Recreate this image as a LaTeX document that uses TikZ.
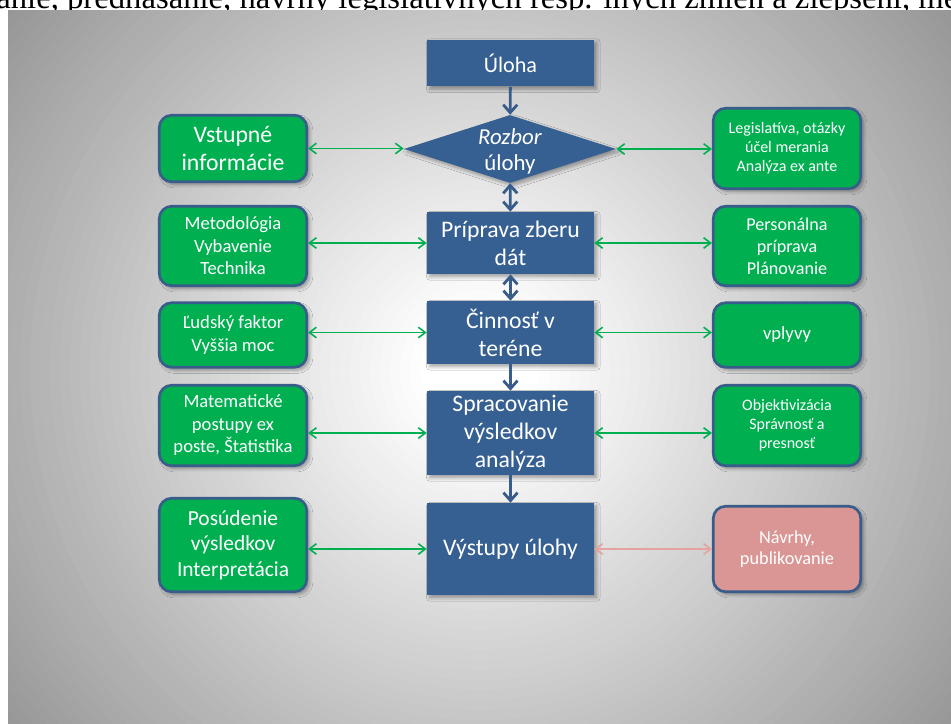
\documentclass[tikz,border=0pt]{standalone}
\usepackage{fontspec}
\setmainfont{Carlito}
\newfontfamily\riadokpismo{Liberation Serif}
\usetikzlibrary{shapes.geometric,arrows.meta,shadows.blur}

\definecolor{krokmodra}{RGB}{55,96,146}
\definecolor{ramcek}{RGB}{56,93,138}
\definecolor{zelena}{RGB}{0,176,80}
\definecolor{ruzova}{RGB}{217,150,148}
\definecolor{ruzovasipka}{RGB}{228,162,160}

\tikzset{
  Hrot/.tip={Straight Barb[length=4.5pt,width=8pt]},
  Hrotik/.tip={Straight Barb[length=4pt,width=6pt]},
  tien/.style={blur shadow={shadow xshift=1.6pt, shadow yshift=-1.6pt, shadow blur steps=6, shadow opacity=35}},
  krok/.style={fill=krokmodra, text=white, align=center, inner sep=1pt, minimum width=3.34cm, tien},
  info/.style={fill=zelena, draw=ramcek, line width=1.5pt, rounded corners=7pt, text=white, align=center, inner sep=1pt, minimum width=2.95cm, tien},
  vystup/.style={info, fill=ruzova},
  rozhodnutie/.style={diamond, fill=krokmodra, inner sep=0pt, minimum width=4.24cm, minimum height=1.36cm, tien},
  tok/.style={draw=ramcek, line width=1.6pt, -Hrot},
  spoj/.style={draw=zelena, line width=0.9pt, Hrotik-Hrotik},
  velke/.style={font=\fontsize{13.5}{16}\selectfont},
  stredne/.style={font=\fontsize{10.6}{12.8}\selectfont},
  male/.style={font=\fontsize{9.1}{10.9}\selectfont},
}

\begin{document}
\begin{tikzpicture}[x=0.02cm, y=-0.02cm]
	\useasboundingbox (0,0) rectangle (951,724);
	\clip (0,0) rectangle (951,724);
	\fill [white] (0,0) rectangle (951,724);

	% riadok textu nad snimkou
	\node [anchor=base west, inner sep=0pt, font=\riadokpismo\fontsize{18.6}{20}\selectfont] (riadok) at (-4,8)
		{anie, prednášanie, návrhy legislatívnych resp. iných zmien a zlepšení, me};

	% snimka - kruhovy prechod od stredu
	\begin{scope}
		\clip (8,10) rectangle (951,724);
		\foreach \r in {600,590,...,0} {
			\pgfmathsetmacro\tmavost{max(0,(\r-60)*0.076)}
			\fill [black!\tmavost] (480,370) circle (\r);
		}
	\end{scope}

	% hlavny tok
	\node [krok, minimum height=0.94cm, font=\fontsize{12.6}{15}\selectfont] (uloha) at (510.5,63) {Úloha};
	\node [rozhodnutie, label={[text=white, align=center, yshift=-1.5pt, font=\fontsize{13}{14.5}\selectfont]center:{\textit{Rozbor}\\úlohy}}] (rozbor) at (510,149) {};
	\node [krok, velke, minimum height=1.24cm] (priprava) at (510.5,243) {Príprava zberu\\dát};
	\node [krok, velke, minimum height=1.26cm] (cinnost) at (510.5,332.5) {Činnosť v\\teréne};
	\node [krok, velke, minimum height=1.68cm] (spracovanie) at (510.5,433) {Spracovanie\\výsledkov\\analýza};
	\node [krok, velke, minimum height=1.84cm] (vystupy) at (510.5,549) {Výstupy úlohy};

	% vstupy vlavo
	\node [info, font=\fontsize{13.5}{16}\selectfont, minimum height=1.33cm] (vstupne) at (233,148.5) {Vstupné\\informácie};
	\node [info, stredne, minimum height=1.59cm] (metodologia) at (233,246) {Metodológia\\Vybavenie\\Technika};
	\node [info, stredne, minimum height=1.29cm] (ludsky) at (233,335) {Ľudský faktor\\Vyššia moc};
	\node [info, stredne, minimum height=1.61cm] (matematicke) at (233,425.5) {Matematické\\postupy ex\\poste, Štatistika};
	\node [info, font=\fontsize{12.2}{14.5}\selectfont, minimum height=1.87cm] (posudenie) at (233,545) {Posúdenie\\výsledkov\\Interpretácia};

	% vstupy vpravo
	\node [info, male, minimum height=1.61cm] (legislativa) at (787,148.5) {Legislatíva, otázky\\účel merania\\Analýza ex ante};
	\node [info, font=\fontsize{10.3}{12.6}\selectfont, minimum height=1.59cm] (personalna) at (787,246) {Personálna\\príprava\\Plánovanie};
	\node [info, stredne, minimum height=1.29cm] (vplyvy) at (787,335) {vplyvy};
	\node [info, male, minimum height=1.61cm] (objektivizacia) at (787,425.5) {Objektivizácia\\Správnosť a\\presnosť};
	\node [vystup, font=\fontsize{10.4}{12}\selectfont, minimum height=1.71cm] (navrhy) at (787,549) {Návrhy,\\publikovanie};

	% sipky hlavneho toku
	\draw [tok] (uloha) -- (rozbor);
	\draw [tok, Hrot-Hrot] (rozbor) -- (priprava);
	\draw [tok, Hrot-Hrot] (priprava) -- (cinnost);
	\draw [tok] (cinnost) -- (spracovanie);
	\draw [tok] (spracovanie) -- (vystupy);

	% spojenia vlavo
	\draw [spoj] (vstupne.east) -- (vstupne.east -| rozbor.west);
	\draw [spoj] (priprava.west -| metodologia.east) -- (priprava.west);
	\draw [spoj] (cinnost.west -| ludsky.east) -- (cinnost.west);
	\draw [spoj] (spracovanie.west -| matematicke.east) -- (spracovanie.west);
	\draw [spoj] (vystupy.west -| posudenie.east) -- (vystupy.west);

	% spojenia vpravo
	\draw [spoj] (rozbor.east) -- (rozbor.east -| legislativa.west);
	\draw [spoj] (priprava.east) -- (priprava.east -| personalna.west);
	\draw [spoj] (cinnost.east) -- (cinnost.east -| vplyvy.west);
	\draw [spoj] (spracovanie.east) -- (spracovanie.east -| objektivizacia.west);
	\draw [spoj, draw=ruzovasipka] (vystupy.east) -- (vystupy.east -| navrhy.west);
\end{tikzpicture}
\end{document}
